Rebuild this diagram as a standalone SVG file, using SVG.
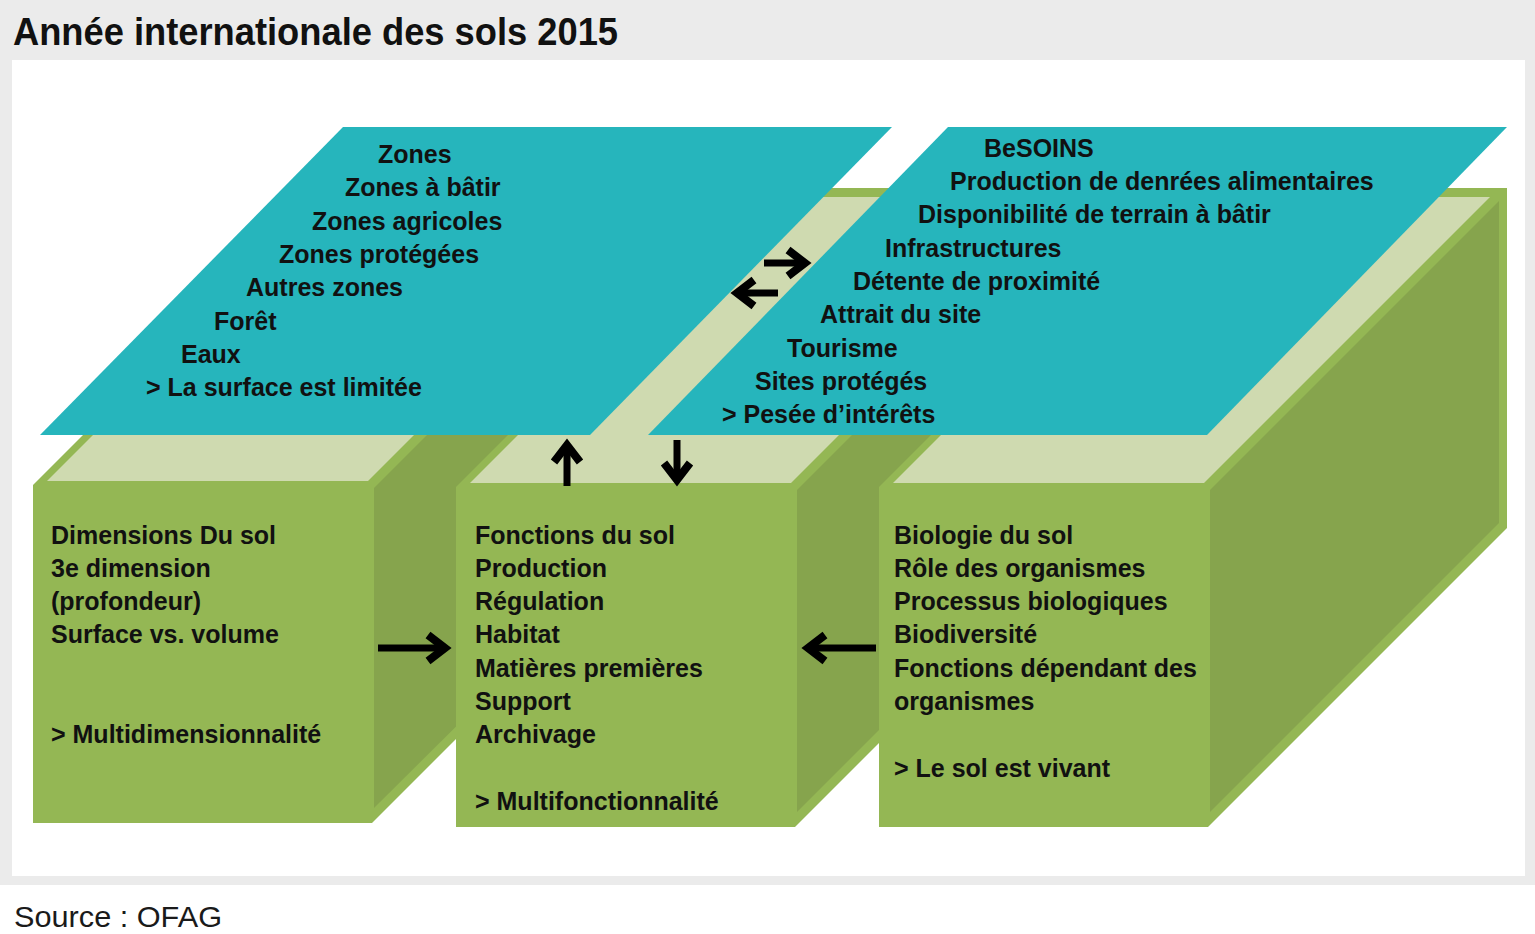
<svg xmlns="http://www.w3.org/2000/svg" width="1535" height="934" viewBox="0 0 1535 934">
<defs>
<style>
.mid{fill:#94b754}
.lt{fill:#cfdab0}
.dk{fill:#86a44d}
.teal{fill:#26b5bc}
.t{font-family:"Liberation Sans",Arial,sans-serif;font-weight:bold;font-size:25px;fill:#111}
.title{font-family:"Liberation Sans",Arial,sans-serif;font-weight:bold;font-size:39px;fill:#111}
.src{font-family:"Liberation Sans",Arial,sans-serif;font-size:30px;fill:#1a1a1a}
.arr{stroke:#000;stroke-width:7;fill:none}
</style>
<marker id="chev" viewBox="0 0 30 32" refX="22" refY="16" markerWidth="30" markerHeight="32" markerUnits="userSpaceOnUse" orient="auto" overflow="visible">
<path d="M6,3 L23,16 L6,29" fill="none" stroke="#000" stroke-width="8" stroke-linejoin="miter"/>
</marker>
</defs>
<rect x="0" y="0" width="1535" height="934" fill="#fff"/>
<rect x="0" y="0" width="1535" height="885" fill="#ebebeb"/>
<rect x="12" y="60" width="1513" height="816" fill="#fff"/>
<text class="title" x="13" y="45" textLength="605" lengthAdjust="spacingAndGlyphs">Année internationale des sols 2015</text>

<g id="block-dimensions">
<polygon class="mid" points="33,485 332,186 671,186 671,524 372,823 33,823"/>
<polygon class="lt" points="47,481 368,481 654,195 333,195"/>
<polygon class="dk" points="374,488 663,199 663,521 374,808"/>
</g>
<g id="block-fonctions">
<polygon class="mid" points="456,487 755,188 1094,188 1094,528 795,827 456,827"/>
<polygon class="lt" points="470,483 791,483 1077,197 756,197"/>
<polygon class="dk" points="797,490 1086,201 1086,523 797,812"/>
</g>
<g id="block-biologie">
<polygon class="mid" points="879,487 1178,188 1507,188 1507,528 1208,827 879,827"/>
<polygon class="lt" points="893,483 1204,483 1490,197 1179,197"/>
<polygon class="dk" points="1210,490 1499,201 1499,523 1210,812"/>
</g>

<g id="plane-zones">
<polygon class="teal" points="343,127 892,127 590,435 40,435"/>
<text class="t" x="378" y="163">Zones</text>
<text class="t" x="345" y="196">Zones à bâtir</text>
<text class="t" x="312" y="230">Zones agricoles</text>
<text class="t" x="279" y="263">Zones protégées</text>
<text class="t" x="246" y="296">Autres zones</text>
<text class="t" x="214" y="330">Forêt</text>
<text class="t" x="181" y="363">Eaux</text>
<text class="t" x="146" y="396">&gt; La surface est limitée</text>
</g>
<g id="plane-besoins">
<polygon class="teal" points="948,127 1507,127 1207,435 648,435"/>
<text class="t" x="984" y="157">BeSOINS</text>
<text class="t" x="950" y="190">Production de denrées alimentaires</text>
<text class="t" x="918" y="223">Disponibilité de terrain à bâtir</text>
<text class="t" x="885" y="257">Infrastructures</text>
<text class="t" x="853" y="290">Détente de proximité</text>
<text class="t" x="820" y="323">Attrait du site</text>
<text class="t" x="787" y="357">Tourisme</text>
<text class="t" x="755" y="390">Sites protégés</text>
<text class="t" x="722" y="423">&gt; Pesée d’intérêts</text>
</g>

<g id="text-dimensions">
<text class="t" x="51" y="544">Dimensions Du sol</text>
<text class="t" x="51" y="577">3e dimension</text>
<text class="t" x="51" y="610">(profondeur)</text>
<text class="t" x="51" y="643">Surface vs. volume</text>
<text class="t" x="51" y="743">&gt; Multidimensionnalité</text>
</g>
<g id="text-fonctions">
<text class="t" x="475" y="544">Fonctions du sol</text>
<text class="t" x="475" y="577">Production</text>
<text class="t" x="475" y="610">Régulation</text>
<text class="t" x="475" y="643">Habitat</text>
<text class="t" x="475" y="677">Matières premières</text>
<text class="t" x="475" y="710">Support</text>
<text class="t" x="475" y="743">Archivage</text>
<text class="t" x="475" y="810">&gt; Multifonctionnalité</text>
</g>
<g id="text-biologie">
<text class="t" x="894" y="544">Biologie du sol</text>
<text class="t" x="894" y="577">Rôle des organismes</text>
<text class="t" x="894" y="610">Processus biologiques</text>
<text class="t" x="894" y="643">Biodiversité</text>
<text class="t" x="894" y="677">Fonctions dépendant des</text>
<text class="t" x="894" y="710">organismes</text>
<text class="t" x="894" y="777">&gt; Le sol est vivant</text>
</g>

<g id="connectors">
<line class="arr" x1="378" y1="648" x2="444" y2="648" marker-end="url(#chev)"/>
<line class="arr" x1="876" y1="648" x2="809" y2="648" marker-end="url(#chev)"/>
<line class="arr" x1="567" y1="486" x2="567" y2="446" marker-end="url(#chev)"/>
<line class="arr" x1="677" y1="440" x2="677" y2="479" marker-end="url(#chev)"/>
<line class="arr" x1="764" y1="263" x2="804" y2="263" marker-end="url(#chev)"/>
<line class="arr" x1="778" y1="293" x2="738" y2="293" marker-end="url(#chev)"/>
</g>

<text class="src" x="14" y="927" textLength="208" lengthAdjust="spacingAndGlyphs">Source : OFAG</text>
</svg>
